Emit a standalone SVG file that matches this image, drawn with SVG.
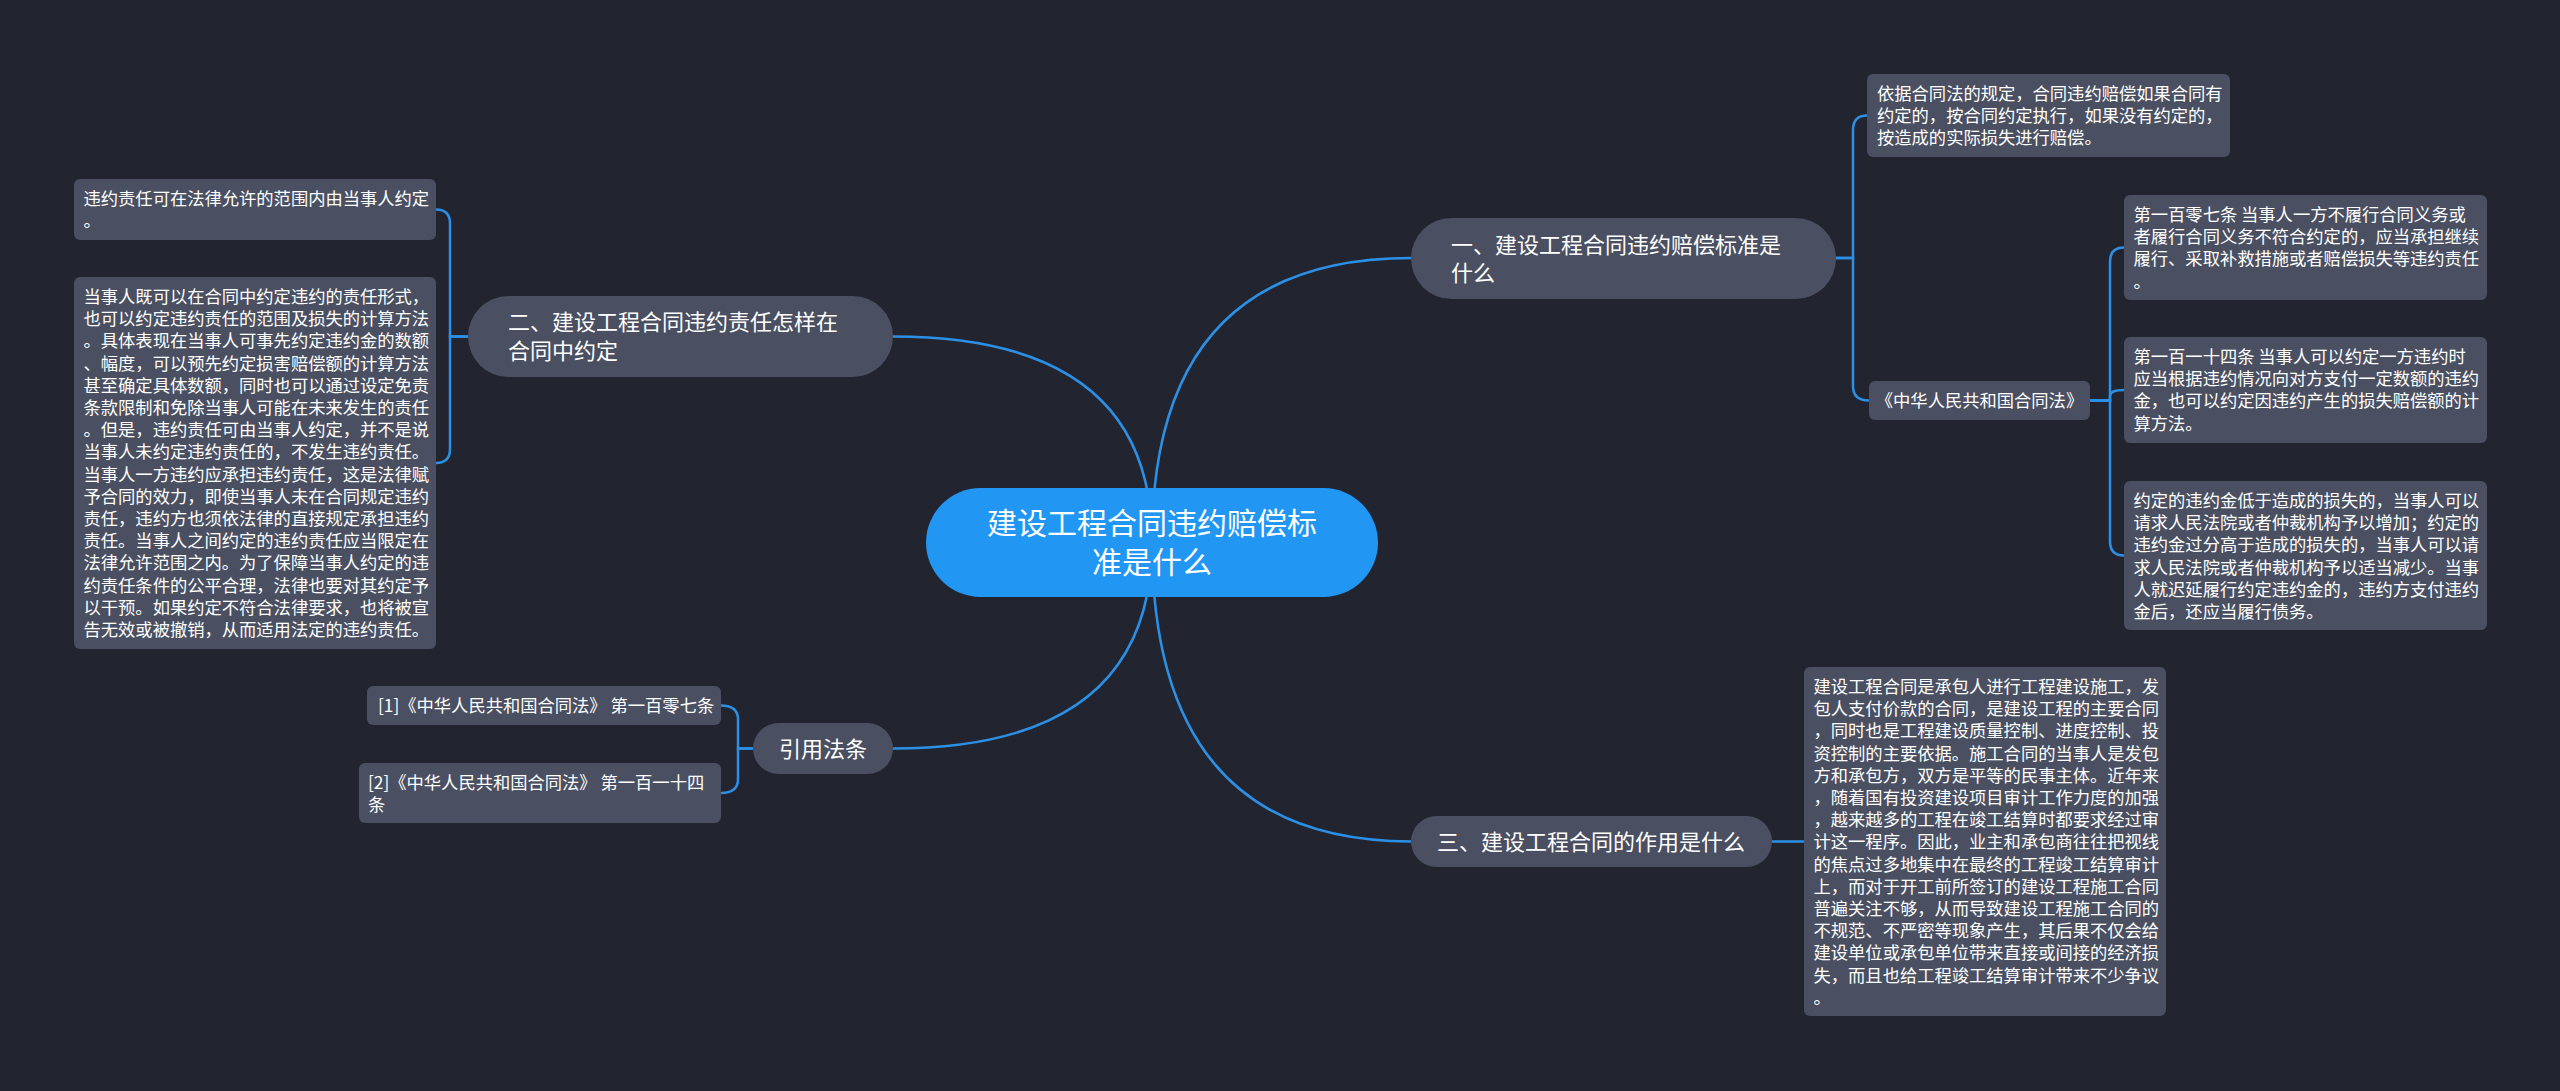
<svg xmlns="http://www.w3.org/2000/svg" width="2560" height="1091" viewBox="0 0 2560 1091">
<style>
.bg{fill:#22252f}
.lk{fill:none;stroke:#2b90e6;stroke-width:2.5}
.leaf rect{fill:#4a5061}
.br rect{fill:#4a5061}
.root rect{fill:#2196f3}
text{font-family:"Noto Sans CJK SC","Noto Sans",sans-serif;fill:#ffffff}
.leaf text{font-size:17.3px}
.br text{font-size:22px}
.root text{font-size:30px;text-anchor:middle}
.mid{text-anchor:middle}
</style>
<rect class="bg" x="0" y="0" width="2560" height="1091"/>
<g id="connectors">
<path class="lk" d="M1152,542 Q1152,258 1411,258"/>
<path class="lk" d="M1152,542 Q1152,336.5 893,336.5"/>
<path class="lk" d="M1152,542 Q1152,748.5 893,748.5"/>
<path class="lk" d="M1152,542 Q1152,841.5 1411,841.5"/>
<path class="lk" d="M1836,258 H1853 V130 Q1853,115.5 1867,115.5"/>
<path class="lk" d="M1836,258 H1853 V386 Q1853,400.5 1869,400.5"/>
<path class="lk" d="M2090,400.5 H2110 V261.5 Q2110,247.5 2124,247.5"/>
<path class="lk" d="M2090,400.5 H2110 V396 Q2110,390 2124,390"/>
<path class="lk" d="M2090,400.5 H2110 V541.5 Q2110,555.5 2124,555.5"/>
<path class="lk" d="M468,336.5 H450 V223.5 Q450,209.5 436,209.5"/>
<path class="lk" d="M468,336.5 H450 V449 Q450,463 436,463"/>
<path class="lk" d="M753,748.5 H738 V719.5 Q738,705.5 721,705.5"/>
<path class="lk" d="M753,748.5 H738 V779 Q738,793 721,793"/>
<path class="lk" d="M1772,841.5 H1804"/>
</g>
<g id="root" class="root">
<rect x="926" y="488" width="452" height="109" rx="54.5"/>
<text><tspan x="1152" y="533.5">建设工程合同违约赔偿标</tspan><tspan x="1152" y="572.5">准是什么</tspan></text>
</g>
<g id="branch1" class="br">
<rect x="1411" y="218" width="425" height="81" rx="40.5"/>
<text><tspan x="1451" y="252.5">一、建设工程合同违约赔偿标准是</tspan><tspan x="1451" y="281">什么</tspan></text>
</g>
<g id="branch2" class="br">
<rect x="468" y="296" width="425" height="81" rx="40.5"/>
<text><tspan x="508" y="330">二、建设工程合同违约责任怎样在</tspan><tspan x="508" y="359">合同中约定</tspan></text>
</g>
<g id="branch3" class="br">
<rect x="1411" y="816" width="361" height="51" rx="25.5"/>
<text x="1437" y="849.5">三、建设工程合同的作用是什么</text>
</g>
<g id="branch4" class="br">
<rect x="753" y="723" width="140" height="51" rx="25.5"/>
<text class="mid" x="823" y="756.5">引用法条</text>
</g>
<g id="leaf-a" class="leaf">
<rect x="1867" y="74" width="363" height="83" rx="6"/>
<text><tspan x="1877" y="100">依据合同法的规定，合同违约赔偿如果合同有</tspan><tspan x="1877" y="122.2">约定的，按合同约定执行，如果没有约定的，</tspan><tspan x="1877" y="144.4">按造成的实际损失进行赔偿。</tspan></text>
</g>
<g id="leaf-law" class="leaf">
<rect x="1869" y="381" width="221" height="39" rx="6"/>
<text class="mid" x="1979.5" y="406.5">《中华人民共和国合同法》</text>
</g>
<g id="leaf-107" class="leaf">
<rect x="2124" y="195" width="363" height="105" rx="6"/>
<text><tspan x="2133.5" y="221">第一百零七条 当事人一方不履行合同义务或</tspan><tspan x="2133.5" y="243.2">者履行合同义务不符合约定的，应当承担继续</tspan><tspan x="2133.5" y="265.4">履行、采取补救措施或者赔偿损失等违约责任</tspan><tspan x="2133.5" y="287.6">。</tspan></text>
</g>
<g id="leaf-114" class="leaf">
<rect x="2124" y="337" width="363" height="106" rx="6"/>
<text><tspan x="2133.5" y="363">第一百一十四条 当事人可以约定一方违约时</tspan><tspan x="2133.5" y="385.2">应当根据违约情况向对方支付一定数额的违约</tspan><tspan x="2133.5" y="407.4">金，也可以约定因违约产生的损失赔偿额的计</tspan><tspan x="2133.5" y="429.6">算方法。</tspan></text>
</g>
<g id="leaf-penalty" class="leaf">
<rect x="2124" y="481" width="363" height="149" rx="6"/>
<text><tspan x="2133.5" y="507">约定的违约金低于造成的损失的，当事人可以</tspan><tspan x="2133.5" y="529.2">请求人民法院或者仲裁机构予以增加；约定的</tspan><tspan x="2133.5" y="551.4">违约金过分高于造成的损失的，当事人可以请</tspan><tspan x="2133.5" y="573.6">求人民法院或者仲裁机构予以适当减少。当事</tspan><tspan x="2133.5" y="595.8">人就迟延履行约定违约金的，违约方支付违约</tspan><tspan x="2133.5" y="618">金后，还应当履行债务。</tspan></text>
</g>
<g id="leaf-scope" class="leaf">
<rect x="74" y="179" width="362" height="61" rx="6"/>
<text><tspan x="83.5" y="205">违约责任可在法律允许的范围内由当事人约定</tspan><tspan x="83.5" y="227.2">。</tspan></text>
</g>
<g id="leaf-liability" class="leaf">
<rect x="74" y="277" width="362" height="372" rx="6"/>
<text><tspan x="83.5" y="303">当事人既可以在合同中约定违约的责任形式，</tspan><tspan x="83.5" y="325.2">也可以约定违约责任的范围及损失的计算方法</tspan><tspan x="83.5" y="347.4">。具体表现在当事人可事先约定违约金的数额</tspan><tspan x="83.5" y="369.6">、幅度，可以预先约定损害赔偿额的计算方法</tspan><tspan x="83.5" y="391.8">甚至确定具体数额，同时也可以通过设定免责</tspan><tspan x="83.5" y="414">条款限制和免除当事人可能在未来发生的责任</tspan><tspan x="83.5" y="436.2">。但是，违约责任可由当事人约定，并不是说</tspan><tspan x="83.5" y="458.4">当事人未约定违约责任的，不发生违约责任。</tspan><tspan x="83.5" y="480.6">当事人一方违约应承担违约责任，这是法律赋</tspan><tspan x="83.5" y="502.8">予合同的效力，即使当事人未在合同规定违约</tspan><tspan x="83.5" y="525">责任，违约方也须依法律的直接规定承担违约</tspan><tspan x="83.5" y="547.2">责任。当事人之间约定的违约责任应当限定在</tspan><tspan x="83.5" y="569.4">法律允许范围之内。为了保障当事人约定的违</tspan><tspan x="83.5" y="591.6">约责任条件的公平合理，法律也要对其约定予</tspan><tspan x="83.5" y="613.8">以干预。如果约定不符合法律要求，也将被宣</tspan><tspan x="83.5" y="636">告无效或被撤销，从而适用法定的违约责任。</tspan></text>
</g>
<g id="leaf-ref1" class="leaf">
<rect x="367" y="686" width="354" height="39" rx="6"/>
<text x="378" y="711.5">[1]《中华人民共和国合同法》 第一百零七条</text>
</g>
<g id="leaf-ref2" class="leaf">
<rect x="359" y="763" width="362" height="60" rx="6"/>
<text><tspan x="368" y="789">[2]《中华人民共和国合同法》 第一百一十四</tspan><tspan x="368" y="811.2">条</tspan></text>
</g>
<g id="leaf-role" class="leaf">
<rect x="1804" y="667" width="362" height="349" rx="6"/>
<text><tspan x="1813.5" y="693">建设工程合同是承包人进行工程建设施工，发</tspan><tspan x="1813.5" y="715.2">包人支付价款的合同，是建设工程的主要合同</tspan><tspan x="1813.5" y="737.4">，同时也是工程建设质量控制、进度控制、投</tspan><tspan x="1813.5" y="759.6">资控制的主要依据。施工合同的当事人是发包</tspan><tspan x="1813.5" y="781.8">方和承包方，双方是平等的民事主体。近年来</tspan><tspan x="1813.5" y="804">，随着国有投资建设项目审计工作力度的加强</tspan><tspan x="1813.5" y="826.2">，越来越多的工程在竣工结算时都要求经过审</tspan><tspan x="1813.5" y="848.4">计这一程序。因此，业主和承包商往往把视线</tspan><tspan x="1813.5" y="870.6">的焦点过多地集中在最终的工程竣工结算审计</tspan><tspan x="1813.5" y="892.8">上，而对于开工前所签订的建设工程施工合同</tspan><tspan x="1813.5" y="915">普遍关注不够，从而导致建设工程施工合同的</tspan><tspan x="1813.5" y="937.2">不规范、不严密等现象产生，其后果不仅会给</tspan><tspan x="1813.5" y="959.4">建设单位或承包单位带来直接或间接的经济损</tspan><tspan x="1813.5" y="981.6">失，而且也给工程竣工结算审计带来不少争议</tspan><tspan x="1813.5" y="1003.8">。</tspan></text>
</g>
</svg>
